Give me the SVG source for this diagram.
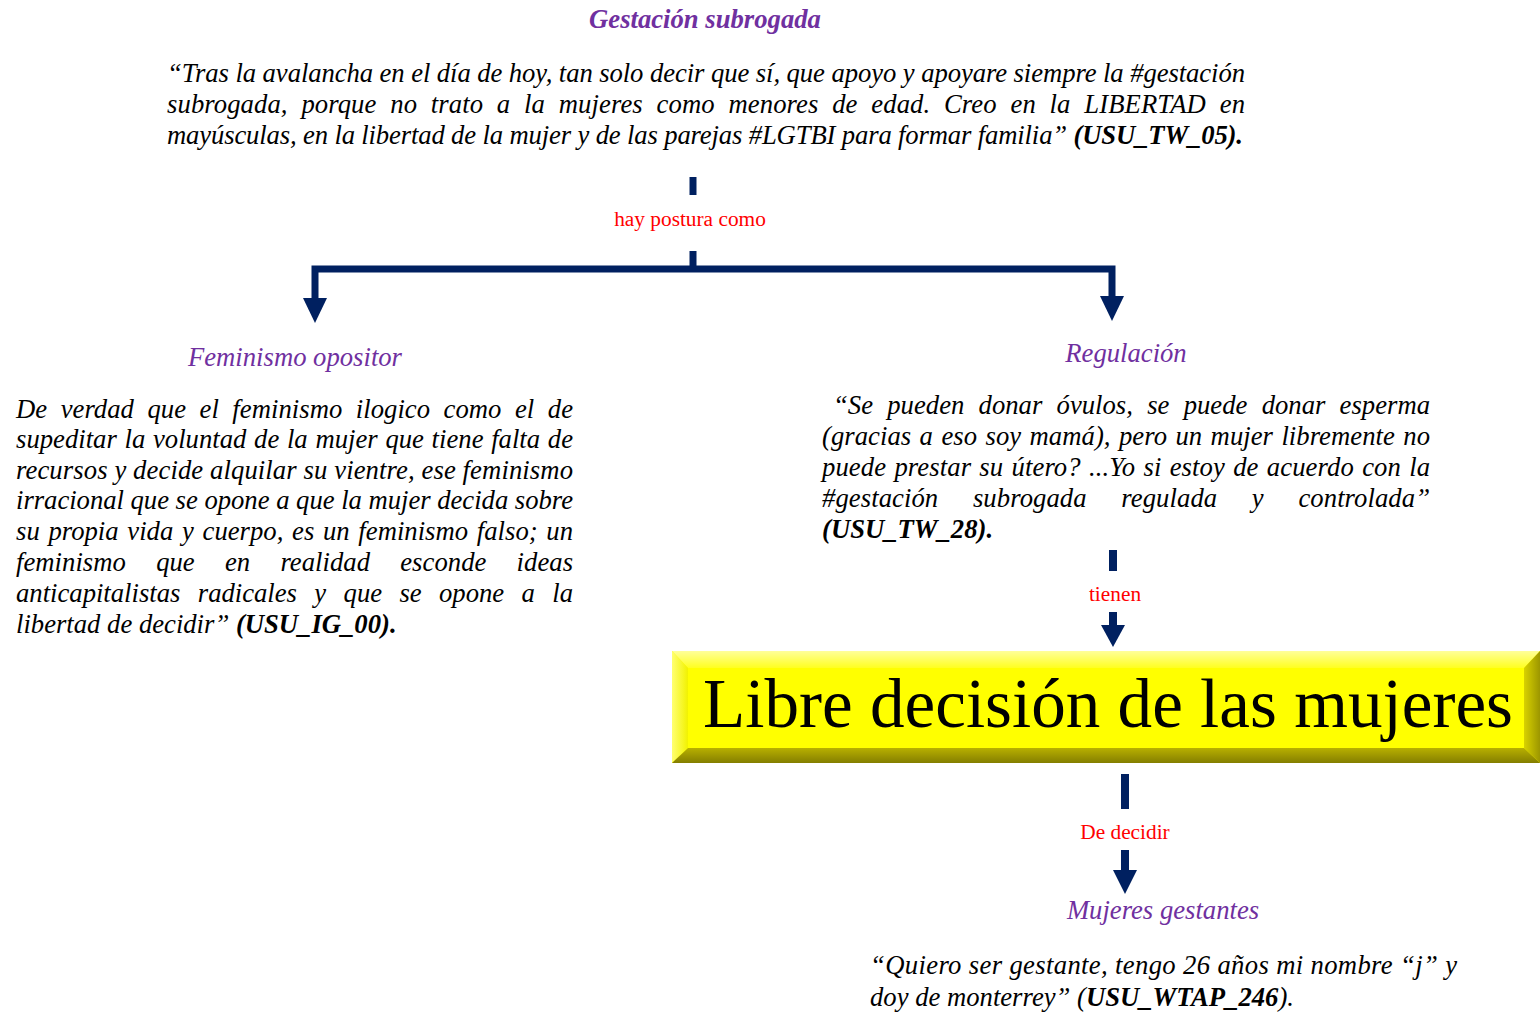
<svg xmlns="http://www.w3.org/2000/svg" width="1540" height="1013" viewBox="0 0 1540 1013">
<style>
text{font-family:"Liberation Serif","Times New Roman",serif;}
.q{font-size:26.67px;font-style:italic;fill:#000;}
.b{font-weight:bold;}
.t{font-size:26.67px;font-style:italic;fill:#7030A0;}
.lbl{font-size:21.33px;fill:#FF0000;text-anchor:middle;}
.ln{fill:none;stroke:#002060;stroke-width:7;}
.hd{fill:#002060;}
</style>
<defs>
<linearGradient id="gTop" x1="0" y1="0" x2="0" y2="1"><stop offset="0" stop-color="#FFFF9A"/><stop offset="1" stop-color="#FFFF20"/></linearGradient>
<linearGradient id="gBot" x1="0" y1="0" x2="0" y2="1"><stop offset="0" stop-color="#B8B000"/><stop offset="1" stop-color="#847E00"/></linearGradient>
<linearGradient id="gL" x1="0" y1="0" x2="1" y2="0"><stop offset="0" stop-color="#FFFF70"/><stop offset="1" stop-color="#F2F200"/></linearGradient>
<linearGradient id="gR" x1="0" y1="0" x2="1" y2="0"><stop offset="0" stop-color="#D8D200"/><stop offset="1" stop-color="#9C9600"/></linearGradient>
</defs>

<g id="connectors">
<path class="ln" d="M693 177V195"/>
<path class="ln" d="M693 251V269M311.5 269H1115.5M315 266V300M1112 266V298"/>
<polygon class="hd" points="303,298 327,298 315,323"/>
<polygon class="hd" points="1100,296 1124,296 1112,321"/>
<text class="lbl" x="690" y="226">hay postura como</text>
<path class="ln" d="M1113 550V571M1113 612V627" style="stroke-width:8"/>
<polygon class="hd" points="1101,625 1125,625 1113,647"/>
<text class="lbl" x="1115" y="601">tienen</text>
<path class="ln" d="M1125 774V809M1125 850V872" style="stroke-width:8"/>
<polygon class="hd" points="1113,870 1137,870 1125,894"/>
<text class="lbl" x="1125" y="839">De decidir</text>
</g>

<g id="n-gestacion">
<text class="t b" x="705" y="28" text-anchor="middle">Gestación subrogada</text>
<text class="q" x="167" y="82" textLength="1078" lengthAdjust="spacing">“Tras la avalancha en el día de hoy, tan solo decir que sí, que apoyo y apoyare siempre la #gestación</text>
<text class="q" x="167" y="113" word-spacing="7" textLength="1078" lengthAdjust="spacing">subrogada, porque no trato a la mujeres como menores de edad. Creo en la LIBERTAD en</text>
<text class="q" x="167" y="144" textLength="1076" lengthAdjust="spacing">mayúsculas, en la libertad de la mujer y de las parejas #LGTBI para formar familia” <tspan class="b">(USU_TW_05).</tspan></text>
</g>

<g id="n-feminismo">
<text class="t" x="295" y="366" text-anchor="middle">Feminismo opositor</text>
<text class="q" x="16" y="418" word-spacing="6.8" textLength="557" lengthAdjust="spacing">De verdad que el feminismo ilogico como el de</text>
<text class="q" x="16" y="448" word-spacing="1" textLength="557" lengthAdjust="spacing">supeditar la voluntad de la mujer que tiene falta de</text>
<text class="q" x="16" y="479" textLength="557" lengthAdjust="spacing">recursos y decide alquilar su vientre, ese feminismo</text>
<text class="q" x="16" y="509" textLength="557" lengthAdjust="spacing">irracional que se opone a que la mujer decida sobre</text>
<text class="q" x="16" y="540" word-spacing="2" textLength="557" lengthAdjust="spacing">su propia vida y cuerpo, es un feminismo falso; un</text>
<text class="q" x="16" y="571" word-spacing="23.5" textLength="557" lengthAdjust="spacing">feminismo que en realidad esconde ideas</text>
<text class="q" x="16" y="602" word-spacing="10.7" textLength="557" lengthAdjust="spacing">anticapitalistas radicales y que se opone a la</text>
<text class="q" x="16" y="633">libertad de decidir” <tspan class="b">(USU_IG_00).</tspan></text>
</g>

<g id="n-regulacion">
<text class="t" x="1126" y="362" text-anchor="middle">Regulación</text>
<text class="q" x="833" y="414" word-spacing="7.6" textLength="597" lengthAdjust="spacing">“Se pueden donar óvulos, se puede donar esperma</text>
<text class="q" x="822" y="445" word-spacing="1.7" textLength="608" lengthAdjust="spacing">(gracias a eso soy mamá), pero un mujer libremente no</text>
<text class="q" x="822" y="476" word-spacing="1.5" textLength="608" lengthAdjust="spacing">puede prestar su útero? ...Yo si estoy de acuerdo con la</text>
<text class="q" x="822" y="507" word-spacing="27.9" textLength="608" lengthAdjust="spacing">#gestación subrogada regulada y controlada”</text>
<text class="q b" x="822" y="538">(USU_TW_28).</text>
</g>

<g id="n-libre">
<rect x="672" y="651" width="868" height="112" fill="#FFFF00"/>
<polygon points="672,651 1540,651 1524,668 688,668" fill="url(#gTop)"/>
<polygon points="672,651 688,668 688,748 672,763" fill="url(#gL)"/>
<polygon points="1540,651 1540,763 1524,748 1524,668" fill="url(#gR)"/>
<polygon points="672,763 688,748 1524,748 1540,763" fill="url(#gBot)"/>
<rect x="688" y="668" width="836" height="80" fill="#FFFF00"/>
<text x="1108" y="727" text-anchor="middle" font-size="69.3" fill="#000" textLength="810" lengthAdjust="spacingAndGlyphs">Libre decisión de las mujeres</text>
</g>

<g id="n-mujeres">
<text class="t" x="1163" y="919" text-anchor="middle">Mujeres gestantes</text>
<text class="q" x="870" y="974" textLength="587" lengthAdjust="spacing">“Quiero ser gestante, tengo 26 años mi nombre “j” y</text>
<text class="q" x="870" y="1006">doy de monterrey” (<tspan class="b">USU_WTAP_246</tspan>).</text>
</g>
</svg>
